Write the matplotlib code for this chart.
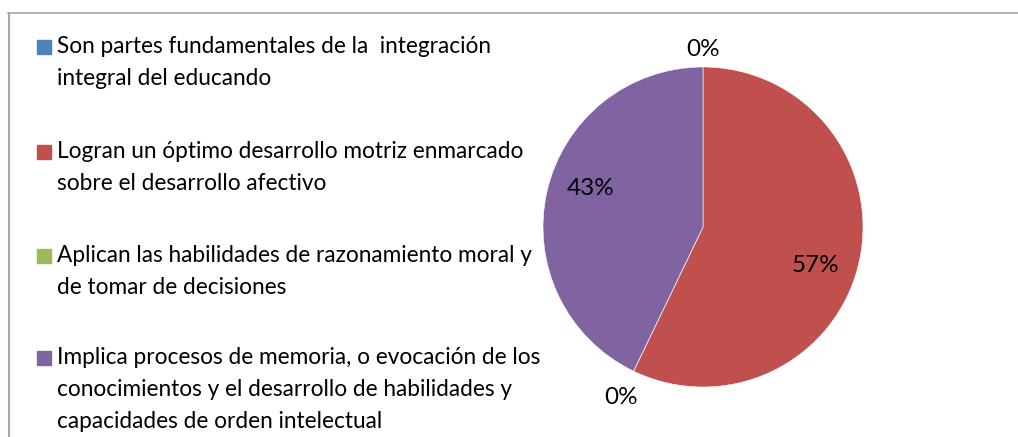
import numpy as np
import matplotlib.pyplot as plt
from matplotlib.patches import Rectangle
from matplotlib.lines import Line2D

labels = [
    "Son partes fundamentales de la  integración\nintegral del educando",
    "Logran un óptimo desarrollo motriz enmarcado\nsobre el desarrollo afectivo",
    "Aplican las habilidades de razonamiento moral y\nde tomar de decisiones",
    "Implica procesos de memoria, o evocación de los\nconocimientos y el desarrollo de habilidades y\ncapacidades de orden intelectual",
]
values = [0, 4, 0, 3]
colors = ["#4F81BD", "#C0504D", "#9BBB59", "#8064A2"]

W, H = 1018, 437
plt.rcParams['font.family'] = ['Lato', 'DejaVu Sans']
fig = plt.figure(figsize=(W / 100, H / 100), dpi=100)

# frame of the chart area (cut off right and bottom)
fig.add_artist(Line2D([8 / W, 1], [1 - 13 / H, 1 - 13 / H], color="#A6A6A6", lw=1.2))
fig.add_artist(Line2D([9 / W, 9 / W], [0, 1 - 13 / H], color="#A6A6A6", lw=1.5))

# pie, centre (703, 227) px, radius 160 px
cx, cy, r = 703, 227, 160
ax = fig.add_axes([(cx - r) / W, (H - cy - r) / H, 2 * r / W, 2 * r / H])
wedges, texts, autotexts = ax.pie(
    values, colors=colors, startangle=90, counterclock=False,
    autopct='%.0f%%', pctdistance=0.74,
    wedgeprops=dict(edgecolor='white', linewidth=0.4),
    textprops=dict(fontsize=17.5, color='#000000'))
ax.set_xlim(-1, 1)
ax.set_ylim(-1, 1)
ax.set_aspect('equal')

# label placement like Excel's best fit
for i, (v, w, t) in enumerate(zip(values, wedges, autotexts)):
    mid = np.radians((w.theta1 + w.theta2) / 2)
    if v == 0:
        d = 1.11 if i == 0 else 1.18
    else:
        mid -= np.radians(6)
        d = 0.745
    t.set_position((d * np.cos(mid), d * np.sin(mid)))

# legend
line_tops = [47, 152, 256, 358]
for lab, col, yc in zip(labels, colors, line_tops):
    fig.add_artist(Rectangle((37 / W, 1 - (yc + 7) / H), 14 / W, 14 / H,
                             transform=fig.transFigure, color=col))
    fig.text(57 / W, 1 - (yc - 11) / H, lab, fontsize=16.3, va='top', ha='left',
             linespacing=1.66, color='#000000')

fig.savefig("out.png", dpi=100)
